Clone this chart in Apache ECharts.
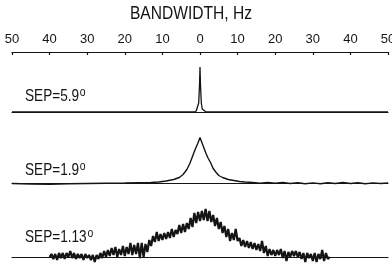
<!DOCTYPE html>
<html><head><meta charset="utf-8">
<script src="https://cdn.jsdelivr.net/npm/echarts@6/dist/echarts.min.js"></script>
<style>html,body{margin:0;padding:0;background:#fff}#c{width:392px;height:266px}</style>
</head><body><div id="c"></div>
<script>
const axisTicks = [-50,-40,-30,-20,-10,0,10,20,30,40,50];
const titleText = 'BANDWIDTH, Hz';
const panelLabels = ['SEP=5.9', 'SEP=1.9', 'SEP=1.13'];

// Panel 1: SEP=5.9° (Hz, relative amplitude)
const sep59 = [[-50,0],[-1.6,0],[-1,1],[-0.6,3],[-0.35,9],[-0.15,25],[0,45],[0.15,25],[0.35,9],[0.6,3],[1,1],[1.6,0],[50,0]];

// Panel 2: SEP=1.9°
const sep19 = [[-50,0],[-45,-0.5],[-40,-0.8],[-35,-0.3],[-30,0],[-25,0.3],[-20,0.5],[-16,0.8],[-13,1],[-11,1.5],[-9,2.5],[-7,4],[-5.5,6],[-4.5,9],[-3.5,14],[-2.7,20],[-2,27],[-1.3,34],[-0.6,40],[0,46],[0.4,42],[1,36],[1.6,30],[2.2,25],[2.8,21],[3.5,15],[4.3,11],[5,8],[6,6],[7.5,4],[9,3],[10.5,2],[12,1.5],[14,1],[16,0.3],[18,1],[20,0.2],[22,1],[24,0],[26,0.8],[28,-0.3],[30,0.6],[32,-0.2],[34,0.8],[36,0],[38,1],[40,0],[42,0.8],[44,-0.2],[46,0.6],[48,0],[50,0.5]];

// Panel 3: SEP=1.13°
const sep113 = [[-40,0],[-39.5,3],[-39,-2],[-38.5,3],[-38,-3],[-37.5,4],[-37,-1],[-36.5,4],[-36,-2],[-35.5,4],[-35,0],[-34.5,6],[-34,-1],[-33.5,4],[-33,-2],[-32.5,3],[-32,-1],[-31.5,3],[-31,-3],[-30.5,3],[-30,-1],[-29.5,2],[-29,-3],[-28.5,2],[-28,-5],[-27.5,2],[-27,-2],[-26.5,4],[-26,-1],[-25.5,6],[-25,0],[-24.5,7],[-24,1],[-23.5,9],[-23,2],[-22.5,10],[-22,0],[-21.5,8],[-21,2],[-20.5,11],[-20,1],[-19.5,10],[-19,3],[-18.5,14],[-18,2],[-17.5,12],[-17,3],[-16.5,14],[-16,-1],[-15.5,14],[-15,0],[-14.5,13],[-14,5],[-13.5,17],[-13,11],[-12.5,21],[-12,15],[-11.5,25],[-11,16],[-10.5,23],[-10,17],[-9.5,24],[-9,18],[-8.5,25],[-8,19],[-7.5,28],[-7,20],[-6.5,27],[-6,23],[-5.5,32],[-5,24],[-4.5,33],[-4,25],[-3.5,34],[-3,28],[-2.5,39],[-2,30],[-1.5,44],[-1,34],[-0.5,45],[0,36],[0.5,46],[1,37],[1.5,48],[2,36],[2.5,46],[3,35],[3.5,42],[4,31],[4.5,39],[5,28],[5.5,35],[6,24],[6.5,31],[7,20],[7.5,28],[8,16],[8.5,24],[9,17],[9.5,28],[10,16],[10.5,19],[11,11],[11.5,17],[12,10],[12.5,16],[13,9],[13.5,15],[14,8],[14.5,14],[15,7],[15.5,13],[16,6],[16.5,16],[17,4],[17.5,11],[18,1],[18.5,8],[19,2],[19.5,7],[20,1],[20.5,7],[21,2],[21.5,8],[22,-1],[22.5,6],[23,-4],[23.5,5],[24,0],[24.5,6],[25,1],[25.5,6],[26,0],[26.5,5],[27,-2],[27.5,4],[28,-5],[28.5,4],[29,-1],[29.5,3],[30,-4],[30.5,4],[31,-5],[31.5,3],[32,-2],[32.5,7],[33,-4],[33.5,4],[34,-2],[34.5,0]];

const FONT = '"Liberation Sans",sans-serif';
const INK = '#141414';
const chart = echarts.init(document.getElementById('c'), null, {renderer:'canvas'});

const baselines = [112, 183.5, 257];
const grids = baselines.map(b => ({left:12, right:4, top:b-50, height:56, outerBoundsMode:'none', containLabel:false}));

const xAxes = grids.map((g,i) => ({
  gridIndex:i, type:'value', min:-50, max:50, interval:10,
  axisLine:{show:true, onZero:true, lineStyle:{color:INK, width:1.2}},
  axisTick:{show:false}, axisLabel:{show:false}, splitLine:{show:false}
}));
xAxes.push({
  gridIndex:0, type:'value', min:-50, max:50, interval:10, position:'top', offset:10,
  axisLine:{show:true, onZero:false, lineStyle:{color:INK, width:1.2}},
  axisTick:{show:true, inside:true, length:3, lineStyle:{color:INK, width:1.2}},
  axisLabel:{show:true, margin:6, fontFamily:FONT, fontSize:13, color:INK,
    hideOverlap:false, showMinLabel:true, showMaxLabel:true,
    formatter:v => axisTicks.includes(v) ? String(Math.abs(v)) : ''},
  splitLine:{show:false}
});
const yAxes = grids.map((g,i) => ({gridIndex:i, type:'value', min:-6, max:50, show:false}));

const mk = (data,i,w) => ({type:'line', xAxisIndex:i, yAxisIndex:i, data, showSymbol:false,
  lineStyle:{color:INK, width:w}, silent:true, animation:false, z:3});

const labelY = [96, 170, 237.5];
chart.setOption({
  animation:false,
  grid:grids,
  xAxis:xAxes,
  yAxis:yAxes,
  series:[mk(sep59,0,1.3), mk(sep19,1,1.4), mk(sep113,2,2.2)],
  graphic:[
    {type:'text', x:191, y:14, scaleX:0.82, style:{text:titleText, font:'19px '+FONT, fill:INK,
      textAlign:'center', textVerticalAlign:'middle'}},
    ...panelLabels.map((t,i)=>({type:'text', x:25, y:labelY[i], scaleX:0.8, style:{
      text:t+'{s|o}', textVerticalAlign:'middle', font:'17px '+FONT, fill:INK,
      rich:{s:{fontSize:13, fontFamily:FONT, fill:INK, verticalAlign:'top', padding:[0,0,8,1]}}}}))
  ]
});
</script></body></html>
